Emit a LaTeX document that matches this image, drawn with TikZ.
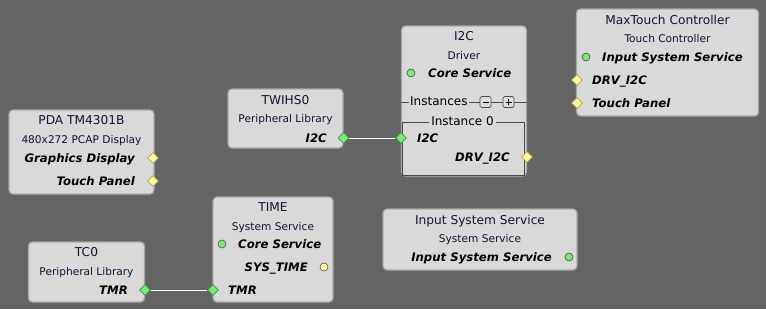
\documentclass[tikz,border=0pt]{standalone}
\usepackage{fontspec}
\setmainfont{DejaVu Sans}
\usetikzlibrary{shapes.geometric}
\definecolor{canvas}{HTML}{646464}
\definecolor{boxfill}{HTML}{D9D9D9}
\definecolor{boxedge}{HTML}{A8A8A8}
\definecolor{titlecol}{HTML}{141434}
\definecolor{portgreen}{HTML}{7CE87C}
\definecolor{portgreenedge}{HTML}{3C9C3C}
\definecolor{portyellow}{HTML}{FFF6A0}
\definecolor{portyellowedge}{HTML}{B4A448}
\definecolor{grpline}{HTML}{4A4A4A}
\tikzset{
  block/.style={draw=boxedge, fill=boxfill, line width=1.2pt, rounded corners=4pt,
    inner sep=0pt, outer sep=0pt},
  ttl/.style={font=\fontsize{12.2}{14}\selectfont, text=titlecol, inner sep=0pt, anchor=mid, yshift=-1.5pt},
  sub/.style={font=\fontsize{10.6}{12}\selectfont, text=titlecol, inner sep=0pt, anchor=mid, yshift=-1.5pt},
  lbl/.style={font=\fontsize{11.7}{13}\selectfont\bfseries\itshape, text=black, inner sep=0pt, yshift=-1.5pt},
  dgreen/.style={diamond, draw=portgreenedge, fill=portgreen, minimum size=11pt, inner sep=0pt, line width=0.6pt},
  dyellow/.style={diamond, draw=portyellowedge, fill=portyellow, minimum size=11pt, inner sep=0pt, line width=0.6pt},
  cgreen/.style={circle, draw=black!70, fill=portgreen, minimum size=8pt, inner sep=0pt, line width=0.6pt},
  cyellow/.style={circle, draw=black!70, fill=portyellow, minimum size=8pt, inner sep=0pt, line width=0.6pt},
  wire/.style={draw=white, line width=1pt},
  grptext/.style={font=\fontsize{12}{14}\selectfont, text=black, fill=boxfill, yshift=-1.2pt},
  btn/.style={draw=grpline, fill=boxfill!90!white, rounded corners=1.5pt, minimum size=11pt, inner sep=0pt, line width=0.7pt},
}
\begin{document}
\begin{tikzpicture}[x=1pt, y=-1pt]
\fill[canvas] (0,0) rectangle (766,309);
\useasboundingbox (0,0) rectangle (766,309);

% PDA TM4301B display
\node[block, minimum width=145pt, minimum height=84pt] (pda) at (81.5,152) {};
\node[ttl] (pdat) at (81.5,120) {PDA TM4301B};
\node[sub] (pdas) at (81.5,139) {480x272 PCAP Display};
\node[lbl, anchor=mid east] (pdag) at (135,158) {Graphics Display};
\node[lbl, anchor=mid east] (pdatp) at (135,181) {Touch Panel};
\node[dyellow] (pdagp) at (153,158) {};
\node[dyellow] (pdatpp) at (153,181) {};

% TWIHS0 peripheral
\node[block, minimum width=115pt, minimum height=59pt] (twi) at (285.5,118.5) {};
\node[ttl] (twit) at (285.5,100) {TWIHS0};
\node[sub] (twis) at (285.5,118) {Peripheral Library};
\node[lbl, anchor=mid east] (twil) at (327,138) {I2C};
\node[dgreen] (twip) at (343.5,138) {};

% I2C driver
\node[block, minimum width=125pt, minimum height=150pt] (drv) at (464,101) {};
\node[ttl] (drvt) at (464,36) {I2C};
\node[sub] (drvs) at (464,55) {Driver};
\node[cgreen] (drvc) at (411,73) {};
\node[lbl, anchor=mid west] (drvcl) at (428,73) {Core Service};
\coordinate (instL) at (401,102);
\coordinate (instR) at (527,102);
\draw[grpline, line width=0.8pt] (instL) -- (instR);
\node[grptext, inner sep=1.5pt, anchor=mid west] (inst) at (408.5,102) {Instances};
\node[btn] (minus) at (485.5,102) {};
\node[btn] (plus) at (508.5,102) {};
\draw[black, line width=1pt] ([xshift=-3pt]minus.center) -- ([xshift=3pt]minus.center);
\draw[black, line width=1pt] ([xshift=-3pt]plus.center) -- ([xshift=3pt]plus.center)
  ([yshift=-3pt]plus.center) -- ([yshift=3pt]plus.center);
\node[draw=grpline, line width=0.8pt, minimum width=122pt, minimum height=53pt, inner sep=0pt] (grp) at (463.5,148.5) {};
\node[grptext, inner sep=2pt, anchor=mid] (grpl) at (462.5,121.5) {Instance 0};
\node[lbl, anchor=mid west] (drvi) at (417,138) {I2C};
\node[lbl, anchor=mid east] (drvo) at (510,157) {DRV\_I2C};
\node[dgreen] (drvip) at (401,138) {};
\node[dyellow] (drvop) at (527,157) {};

% MaxTouch controller
\node[block, minimum width=182pt, minimum height=107pt] (mxt) at (667.5,62.5) {};
\node[ttl] (mxtt) at (667.5,20) {MaxTouch Controller};
\node[sub] (mxts) at (667.5,38) {Touch Controller};
\node[cgreen] (mxtc) at (586,57) {};
\node[lbl, anchor=mid west] (mxtcl) at (602,57) {Input System Service};
\node[lbl, anchor=mid west] (mxtd) at (592,80) {DRV\_I2C};
\node[lbl, anchor=mid west] (mxtp) at (592,103) {Touch Panel};
\node[dyellow] (mxtdp) at (577,80) {};
\node[dyellow] (mxtpp) at (577,103) {};

% TIME system service
\node[block, minimum width=120pt, minimum height=105pt] (tim) at (273,249.5) {};
\node[ttl] (timt) at (273,207) {TIME};
\node[sub] (tims) at (273,226) {System Service};
\node[cgreen] (timc) at (222,244) {};
\node[lbl, anchor=mid west] (timcl) at (238,244) {Core Service};
\node[lbl, anchor=mid east] (timsl) at (308,267) {SYS\_TIME};
\node[cyellow] (timsp) at (324,267) {};
\node[lbl, anchor=mid west] (timtl) at (228,290) {TMR};
\node[dgreen] (timtp) at (213,290) {};

% TC0 peripheral
\node[block, minimum width=116pt, minimum height=60pt] (tc) at (86.5,272) {};
\node[ttl] (tct) at (86.5,252) {TC0};
\node[sub] (tcs) at (86.5,271) {Peripheral Library};
\node[lbl, anchor=mid east] (tcl) at (128,290) {TMR};
\node[dgreen] (tcp) at (145,290) {};

% Input system service
\node[block, minimum width=194pt, minimum height=61pt] (iss) at (480,239.5) {};
\node[ttl] (isst) at (480,220) {Input System Service};
\node[sub] (isss) at (480,238) {System Service};
\node[lbl, anchor=mid east] (issl) at (552,257) {Input System Service};
\node[cgreen] (issc) at (569,257) {};

% connections
\draw[wire] (twip.east) -- (drvip.west);
\draw[wire] (tcp.east) -- (timtp.west);
\end{tikzpicture}
\end{document}
